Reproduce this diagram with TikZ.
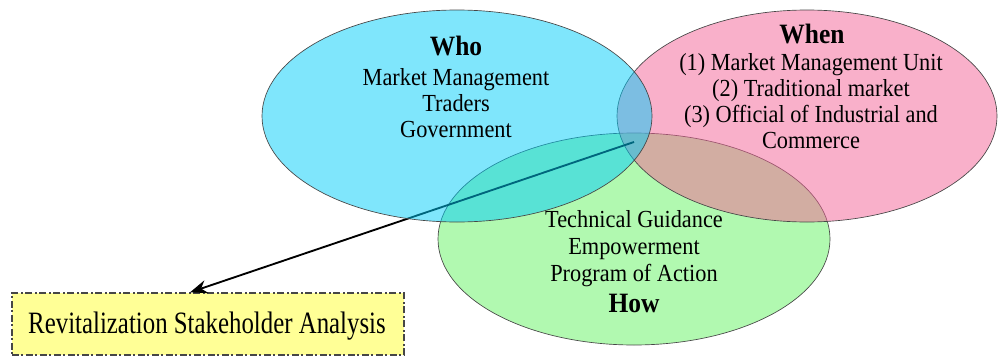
\documentclass[tikz,border=0pt]{standalone}
\usepackage{fontspec}
\setmainfont{Liberation Serif}
\newfontfamily\boxfont[FakeStretch=0.8]{Liberation Serif}
\newfontfamily\bodyfont[FakeStretch=0.91]{Liberation Serif}
\usetikzlibrary{shapes.geometric,arrows.meta,calc}
\definecolor{cyanbase}{RGB}{0,205,250}
\definecolor{pinkbase}{RGB}{243,98,150}
\definecolor{greenbase}{RGB}{100,243,98}
\definecolor{boxyellow}{RGB}{255,255,150}
\definecolor{edgegray}{RGB}{70,70,70}
\tikzset{
  venn/.style={ellipse, draw=edgegray, line width=0.5pt, fill opacity=0.5, inner sep=0pt},
  bodytext/.style={anchor=base, inner sep=0pt, font=\bodyfont\fontsize{18.4pt}{20pt}\selectfont},
  titletext/.style={anchor=base, inner sep=0pt, font=\bodyfont\fontsize{21pt}{23pt}\selectfont\bfseries},
  resultbox/.style={draw=edgegray, line width=1pt, fill=boxyellow,
    dash pattern=on 5pt off 2pt on 1.5pt off 2pt, minimum width=294pt, minimum height=46.5pt,
    inner sep=0pt},
  link/.style={line width=1.4pt, -{Stealth[length=13pt,width=10pt]}}
}
\begin{document}
\begin{tikzpicture}[x=0.75pt,y=-0.75pt]
\useasboundingbox (0,0) rectangle (998,357);
% ellipses: green bottom, pink middle, cyan top
\node[venn, fill=greenbase, minimum width=294pt, minimum height=159pt] (how) at (634,239) {};
\node[venn, fill=pinkbase, minimum width=285pt, minimum height=159pt] (when) at (807,116) {};
% result box and arrow (under cyan)
\node[resultbox] (result) at (208,324) {};
\coordinate (centre) at (634,142);
\draw[link] (centre) -- ($(result.north)+(-18,0)$);
\node[venn, fill=cyanbase, minimum width=292.5pt, minimum height=159pt] (who) at (457,116) {};
% texts
\node[anchor=base, inner sep=0pt, font=\boxfont\fontsize{23.3pt}{26pt}\selectfont] (resulttext) at (207,333) {Revitalization Stakeholder Analysis};

\node[titletext] (whot) at (456,55) {Who};
\node[bodytext] (who1) at (456,85) {Market Management};
\node[bodytext] (who2) at (456,111) {Traders};
\node[bodytext] (who3) at (456,137) {Government};

\node[titletext] (whent) at (812,43) {When};
\node[bodytext] (when1) at (811,70) {(1) Market Management Unit};
\node[bodytext] (when2) at (811,96) {(2) Traditional market};
\node[bodytext] (when3) at (811,122) {(3) Official of Industrial and};
\node[bodytext] (when4) at (811,148) {Commerce};

\node[bodytext] (how1) at (634,227) {Technical Guidance};
\node[bodytext] (how2) at (634,254) {Empowerment};
\node[bodytext] (how3) at (634,281) {Program of Action};
\node[titletext] (howt) at (634,312) {How};
\end{tikzpicture}
\end{document}
